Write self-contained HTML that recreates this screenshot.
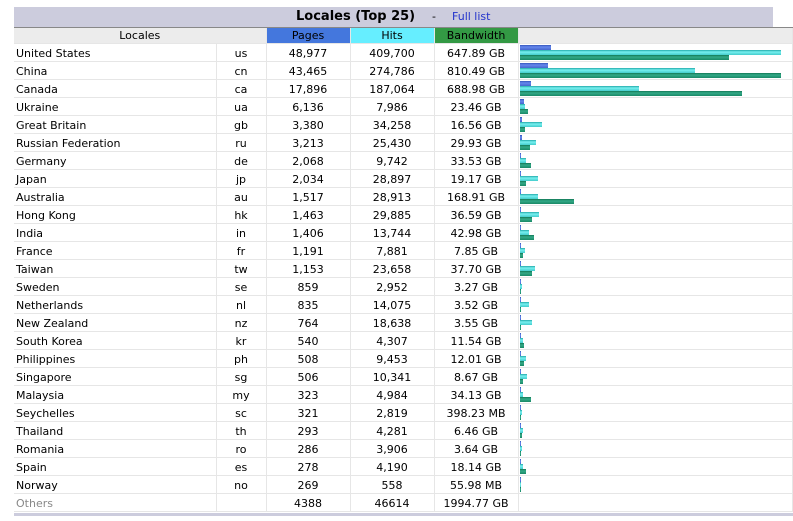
<!DOCTYPE html><html><head><style>
body{margin:0;background:#fff;font-family:"DejaVu Sans","Liberation Sans",sans-serif;font-size:11px;color:#000;}
#t{position:absolute;left:14px;top:7px;width:759px;height:20px;background:#ccccdd;}
#t b{position:absolute;left:282px;top:2px;font-size:13px;}
#t span{position:absolute;left:418px;top:3px;}
#t a{position:absolute;left:438px;top:3px;color:#2233cc;text-decoration:none;}
#line{position:absolute;left:14px;top:27px;width:779px;height:1px;background:#888;}
table{position:absolute;left:14px;top:28px;border-collapse:collapse;width:779px;table-layout:fixed;}
td{height:15px;padding:2px 0 0 0;border:1px solid #e6e6e6;border-width:0 1px 1px 0;white-space:nowrap;overflow:hidden;text-align:center;line-height:15px;vertical-align:top;}
td.n{text-align:left;padding-left:2px;}
tr.h td{background:#ececec;height:15px;line-height:15px;padding:0;vertical-align:middle;}
.g{position:relative;}
.b{position:absolute;left:1px;height:5px;}
.p{top:1px;background:linear-gradient(#3355bb,#6688ee 40%,#4466cc);}
.i{top:6px;background:linear-gradient(#22aaaa,#77f0f0 40%,#44cccc);}
.w{top:11px;background:linear-gradient(#117755,#33aa88 40%,#1a8866);}
#bot{position:absolute;left:14px;top:513px;width:779px;height:3px;background:#ccccdd;}
</style></head><body>
<div id="t"><b>Locales (Top 25)</b><span>-</span><a>Full list</a></div>
<div id="line"></div>
<table id="tb"><colgroup><col style="width:202px"><col style="width:50px"><col style="width:84px"><col style="width:84px"><col style="width:84px"><col></colgroup>
<tr class="h"><td colspan="2">Locales</td><td style="background:#4477dd">Pages</td><td style="background:#66eeff">Hits</td><td style="background:#339944">Bandwidth</td><td></td></tr>
</table>
<div id="bot"></div>
<script>
var d=[["United States","us","48,977","409,700","647.89 GB",31,261,209],
["China","cn","43,465","274,786","810.49 GB",28,175,261],
["Canada","ca","17,896","187,064","688.98 GB",11,119,222],
["Ukraine","ua","6,136","7,986","23.46 GB",4,5,8],
["Great Britain","gb","3,380","34,258","16.56 GB",2,22,5],
["Russian Federation","ru","3,213","25,430","29.93 GB",2,16,10],
["Germany","de","2,068","9,742","33.53 GB",1,6,11],
["Japan","jp","2,034","28,897","19.17 GB",1,18,6],
["Australia","au","1,517","28,913","168.91 GB",1,18,54],
["Hong Kong","hk","1,463","29,885","36.59 GB",1,19,12],
["India","in","1,406","13,744","42.98 GB",1,9,14],
["France","fr","1,191","7,881","7.85 GB",1,5,3],
["Taiwan","tw","1,153","23,658","37.70 GB",1,15,12],
["Sweden","se","859","2,952","3.27 GB",1,2,1],
["Netherlands","nl","835","14,075","3.52 GB",1,9,1],
["New Zealand","nz","764","18,638","3.55 GB",1,12,1],
["South Korea","kr","540","4,307","11.54 GB",1,3,4],
["Philippines","ph","508","9,453","12.01 GB",1,6,4],
["Singapore","sg","506","10,341","8.67 GB",1,7,3],
["Malaysia","my","323","4,984","34.13 GB",1,3,11],
["Seychelles","sc","321","2,819","398.23 MB",1,2,1],
["Thailand","th","293","4,281","6.46 GB",1,3,2],
["Romania","ro","286","3,906","3.64 GB",1,2,1],
["Spain","es","278","4,190","18.14 GB",1,3,6],
["Norway","no","269","558","55.98 MB",1,1,1]];
var h="";
d.forEach(function(r){h+='<tr><td class="n">'+r[0]+'</td><td>'+r[1]+'</td><td>'+r[2]+'</td><td>'+r[3]+'</td><td>'+r[4]+'</td><td class="g"><div class="b p" style="width:'+r[5]+'px"></div><div class="b i" style="width:'+r[6]+'px"></div><div class="b w" style="width:'+r[7]+'px"></div></td></tr>';});
h+='<tr><td class="n" style="color:#888">Others</td><td></td><td>4388</td><td>46614</td><td>1994.77 GB</td><td></td></tr>';
document.getElementById("tb").insertAdjacentHTML("beforeend",h);
</script>
</body></html>
